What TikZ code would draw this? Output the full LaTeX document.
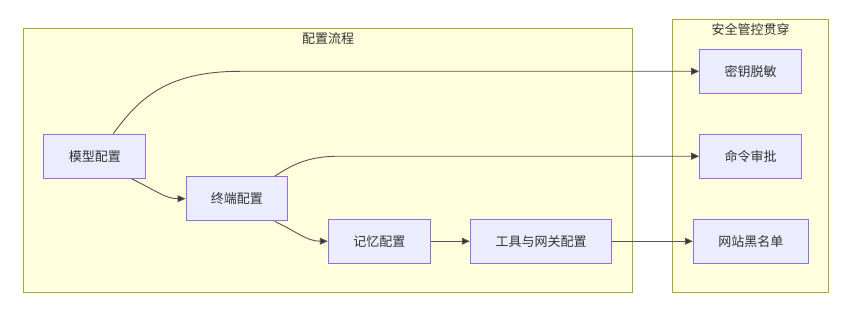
\documentclass[tikz,border=0pt]{standalone}
\usepackage{fontspec}
\setmainfont{Noto Sans CJK SC}
\usetikzlibrary{arrows.meta}
\definecolor{clfill}{HTML}{FFFFDE}
\definecolor{clline}{HTML}{AAAA33}
\definecolor{ndfill}{HTML}{ECECFF}
\definecolor{ndline}{HTML}{9370DB}
\definecolor{txt}{HTML}{333333}
\definecolor{edgec}{HTML}{555555}
\tikzset{
  cluster/.style={draw=clline, fill=clfill, line width=1pt},
  cltitle/.style={text=txt, font=\fontsize{13pt}{15pt}\selectfont, inner sep=0pt},
  box/.style={draw=ndline, fill=ndfill, line width=1pt, text=txt, font=\fontsize{13pt}{15pt}\selectfont, minimum height=44.3pt, inner sep=0pt},
  edge/.style={draw=edgec, line width=0.9pt, -{Triangle[length=8pt,width=7pt,fill=txt]}}
}
\begin{document}
\begin{tikzpicture}[x=1pt,y=-1pt]
\useasboundingbox (0,0) rectangle (842,310);
% clusters
\draw[cluster] (23.5,29) rectangle (632,292);
\node[cltitle] (t1) at (328,38.5) {配置流程};
\draw[cluster] (672.5,20) rectangle (828.3,292);
\node[cltitle] (t2) at (750.5,29.5) {安全管控贯穿};
% nodes
\node[box, minimum width=101.7pt] (m) at (94.8,156.3) {模型配置};
\node[box, minimum width=101.7pt] (t) at (236.9,198.7) {终端配置};
\node[box, minimum width=102pt] (j) at (379.3,241.2) {记忆配置};
\node[box, minimum width=141.4pt] (g) at (541,241.2) {工具与网关配置};
\node[box, minimum width=102pt] (k) at (750.7,71.3) {密钥脱敏};
\node[box, minimum width=102pt] (c) at (750.7,156.2) {命令审批};
\node[box, minimum width=115pt] (w) at (750.8,241.2) {网站黑名单};
% helper coordinates
\coordinate (mk) at (240,71.3);
\coordinate (tc) at (340,156.2);
% edges
\draw[edge] ([xshift=18.5pt]m.north) .. controls (138,100) and (165,71.3) .. (mk) -- (k.west);
\draw[edge] ([xshift=37pt]m.south) .. controls (155,190) and (165,198.7) .. (t.west);
\draw[edge] ([xshift=38pt]t.north) .. controls (295,163) and (310,156.2) .. (tc) -- (c.west);
\draw[edge] ([xshift=38pt]t.south) .. controls (297,232) and (307,241.2) .. (j.west);
\draw[edge] (j.east) -- (g.west);
\draw[edge] (g.east) -- (w.west);
\end{tikzpicture}
\end{document}
